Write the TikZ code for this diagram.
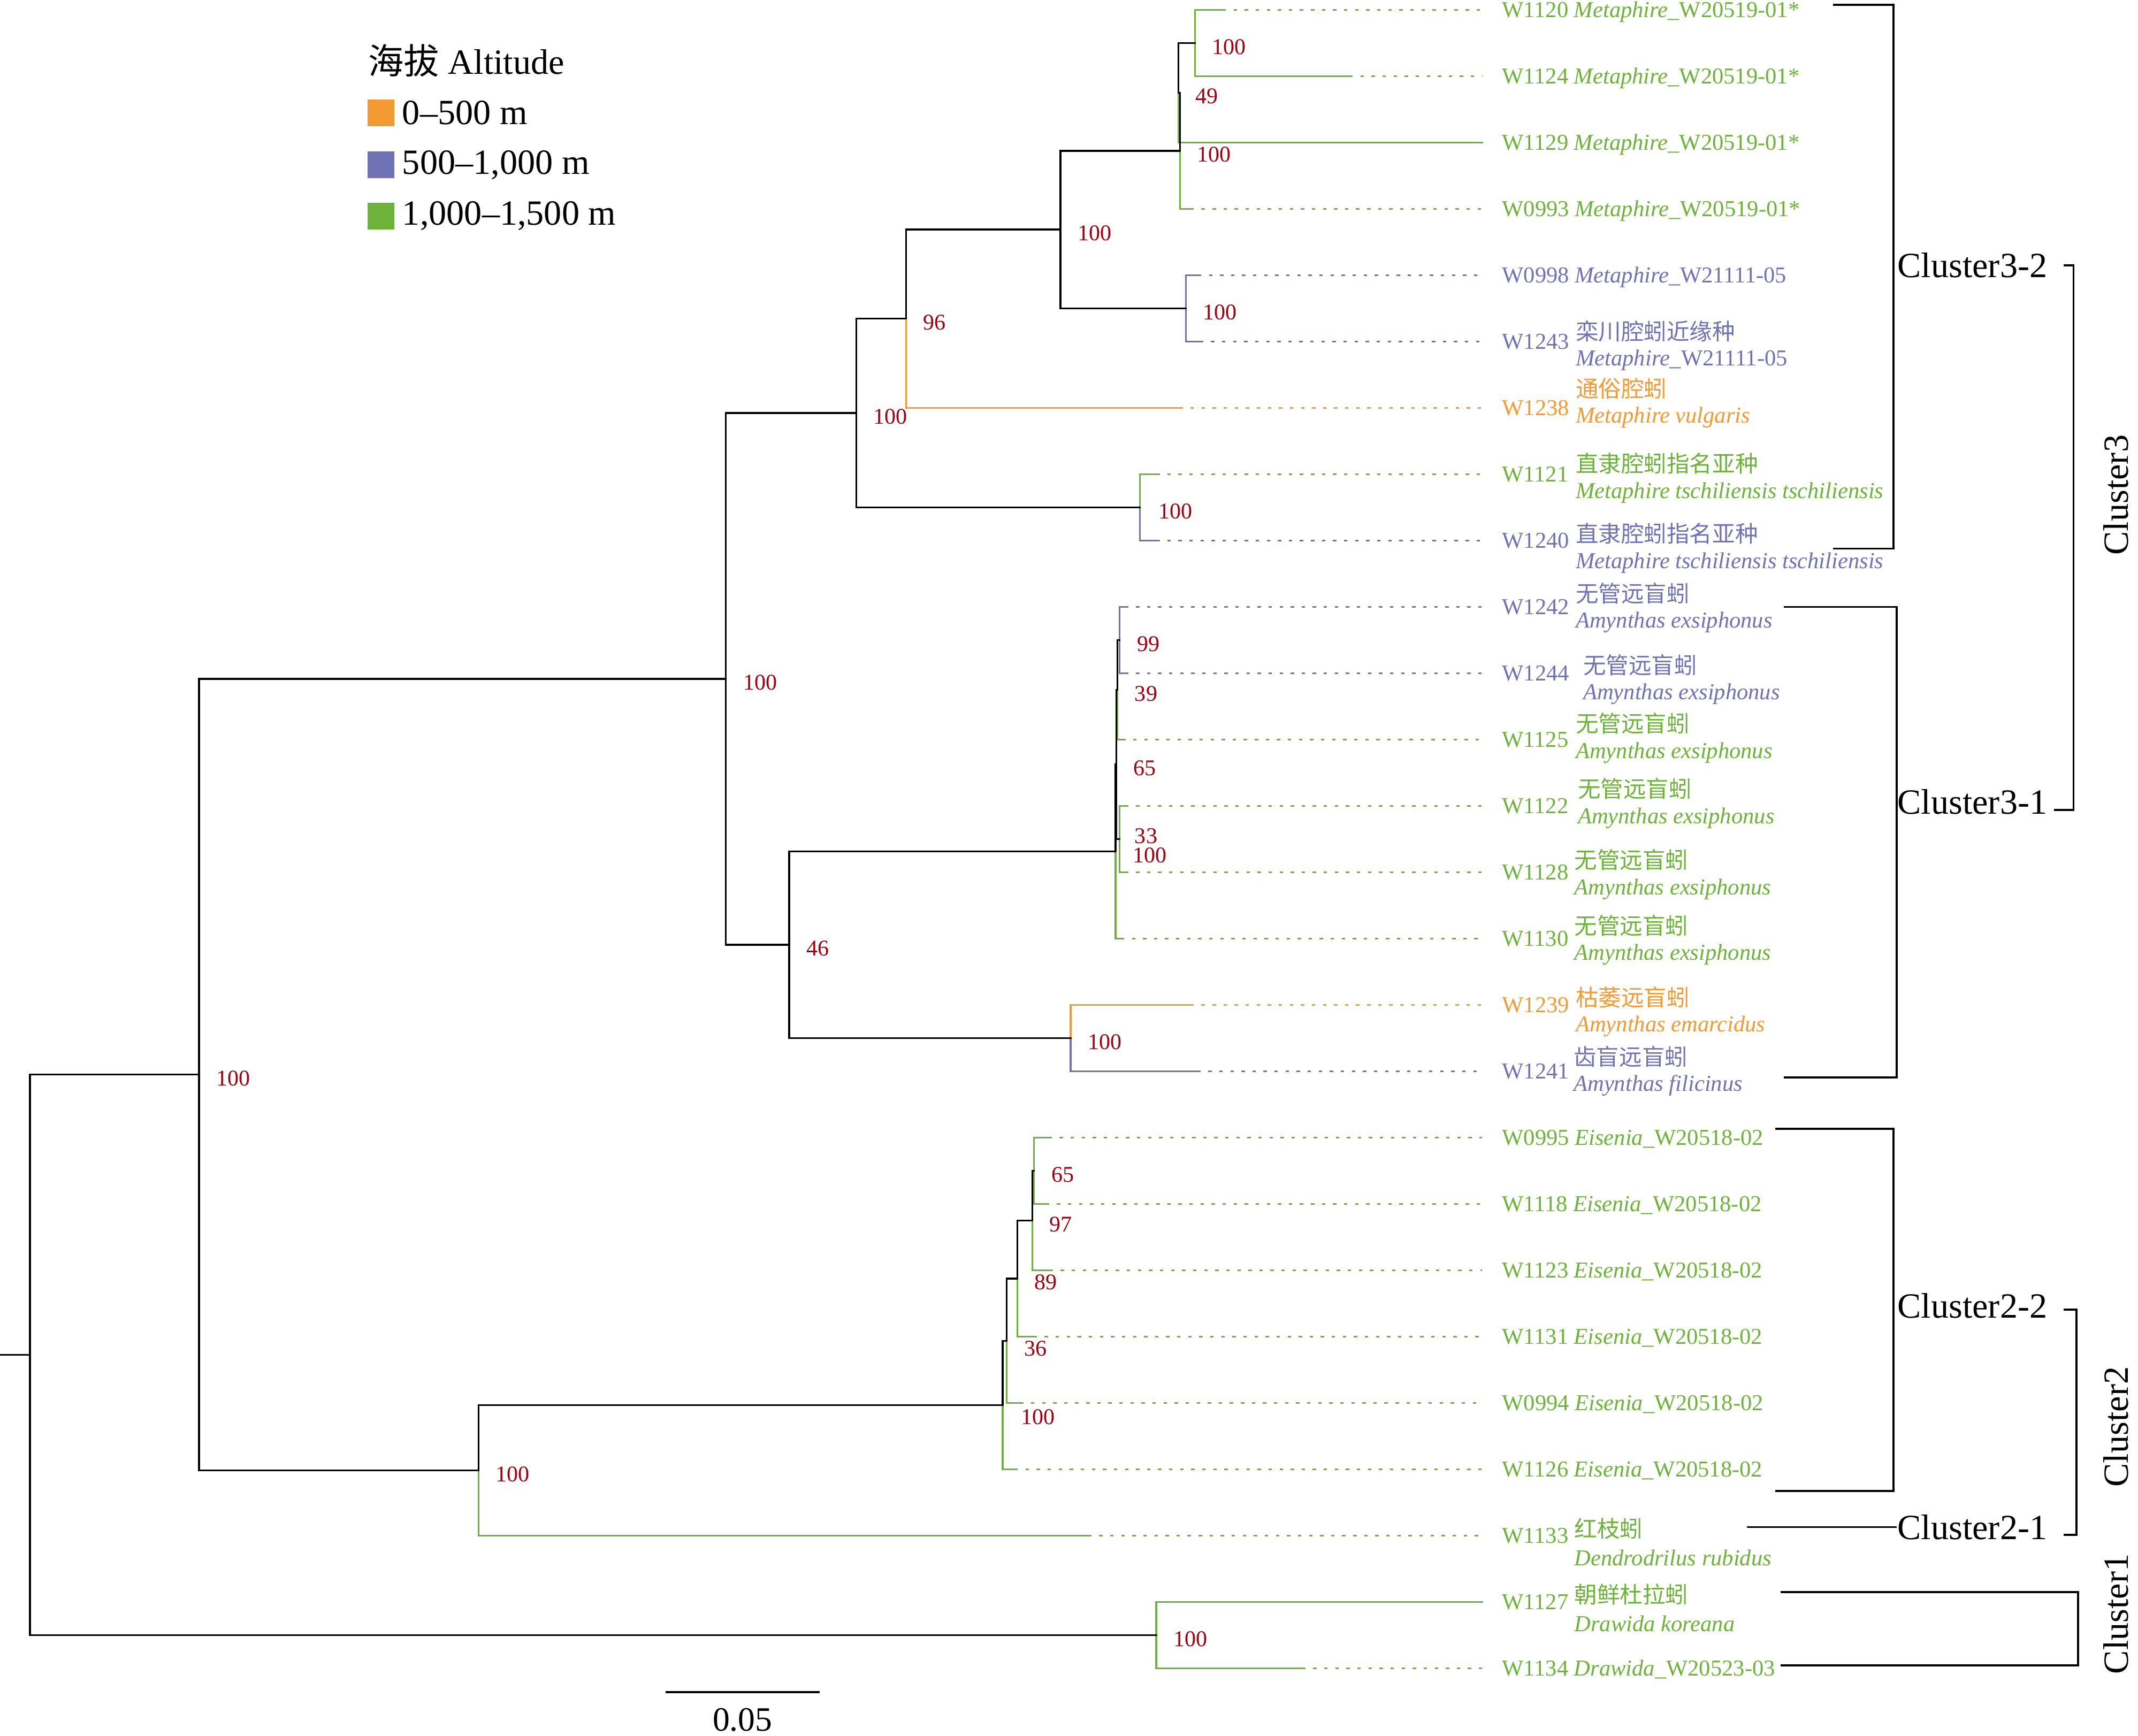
\documentclass[tikz,border=0pt]{standalone}
\usepackage{fontspec}
\setmainfont{Liberation Serif}
\newfontfamily\cjk{Noto Sans CJK SC}
\usetikzlibrary{calc}

\definecolor{alt1}{RGB}{243,155,50}
\definecolor{alt2}{RGB}{112,114,182}
\definecolor{alt3}{RGB}{109,179,58}
\definecolor{bsred}{RGB}{160,0,16}

\tikzset{every picture/.style={line width=1.3pt}}
\tikzset{
  br/.style={line cap=rect},
  dots/.style={line cap=butt,dash pattern=on 2.5pt off 5.6pt},
  bs/.style={anchor=west,inner sep=0pt,text=bsred,font=\fontsize{16.5}{18}\selectfont,xshift=12pt,yshift=-2.7pt},
  lbl/.style={inner sep=0pt,font=\fontsize{16.7}{20}\selectfont},
  big/.style={inner sep=0pt,font=\fontsize{26}{30}\selectfont},
  sq/.style={minimum size=19.6pt,inner sep=0pt},
  bracket/.style={line width=1.5pt}
}

\begin{document}
\begin{tikzpicture}[x=1pt,y=1pt,yscale=-1]
\path[fill=white,use as bounding box] (0,0) rectangle (1568,1273);

% inner nodes of the tree
\coordinate (nF) at (876.4,31.53);
\coordinate (nX) at (864.3,68.03);
\coordinate (nH) at (865.3,110.6);
\coordinate (nL) at (869.8,226.17);
\coordinate (nE) at (777.7,168.39);
\coordinate (nD) at (664.5,233.78);
\coordinate (nM) at (836,372.15);
\coordinate (nC) at (628,302.96);
\coordinate (nQ) at (821.2,469.47);
\coordinate (nR) at (819.6,505.97);
\coordinate (nS) at (821.2,615.45);
\coordinate (nT) at (818.8,560.71);
\coordinate (nO) at (818.1,624.58);
\coordinate (nP) at (785.2,761.43);
\coordinate (nN) at (578.8,693.0);
\coordinate (nB) at (532.4,497.98);
\coordinate (nU5) at (758.4,858.75);
\coordinate (nU4) at (757.0,895.25);
\coordinate (nU3) at (746.2,937.83);
\coordinate (nU2) at (738.4,983.45);
\coordinate (nU1) at (735.3,1030.58);
\coordinate (nV) at (351,1078.48);
\coordinate (nA) at (146,788.23);
\coordinate (nW) at (848,1199.37);
\coordinate (nRoot) at (22,993.8);
\coordinate (nStub) at (0,993.8);

% tips: solid part, then dotted part
\foreach \t/\p/\sx/\cl in {1/nF/896.6/alt3, 2/nF/989.6/alt3, 3/nX/1087/alt3, 4/nH/873/alt3,
  5/nL/878.5/alt2, 6/nL/880/alt2, 7/nD/865/alt1, 8/nM/848/alt3, 9/nM/848/alt2,
  10/nQ/825/alt2, 11/nQ/825/alt2, 12/nR/823/alt3, 13/nS/825/alt3, 14/nS/825/alt3,
  15/nO/822/alt3, 16/nP/873/alt1, 17/nP/878/alt2, 18/nU5/769/alt3, 19/nU5/767/alt3,
  20/nU4/769.7/alt3, 21/nU3/758/alt3, 22/nU2/748/alt3, 23/nU1/744/alt3,
  24/nV/798/alt3, 25/nW/1087/alt3, 26/nW/955/alt3}{
  \coordinate (t\t) at (1087,{7.2+48.66*(\t-1)});
  \coordinate (s\t) at (\sx,{7.2+48.66*(\t-1)});
  \draw[\cl,br] (\p |- t\t) -- (s\t);
  \draw[\cl,dots] (s\t) -- (t\t);
}

% verticals (upper half / lower half)
\draw[alt3,br] (nF |- t1) -- (nF |- t2);
\draw[br] (nX |- nF) -- (nX); \draw[alt3,br] (nX) -- (nX |- t3);
\draw[br] (nH |- nX) -- (nH); \draw[alt3,br] (nH) -- (nH |- t4);
\draw[alt2,br] (nL |- t5) -- (nL |- t6);
\draw[br] (nE |- nH) -- (nE |- nL);
\draw[br] (nD |- nE) -- (nD); \draw[alt1,br] (nD) -- (nD |- t7);
\draw[br] (nC |- nD) -- (nC |- nM);
\draw[alt3,br] (nM |- t8) -- (nM); \draw[alt2,br] (nM) -- (nM |- t9);
\draw[br] (nB |- nC) -- (nB |- nN);
\draw[alt2,br] (nQ |- t10) -- (nQ |- t11);
\draw[br] (nR |- nQ) -- (nR); \draw[alt3,br] (nR) -- (nR |- t12);
\draw[alt3,br] (nS |- t13) -- (nS |- t14);
\draw[br] (nT |- nR) -- (nT |- nS);
\draw[br] (nO |- nT) -- (nO); \draw[alt3,br] (nO) -- (nO |- t15);
\draw[br] (nN |- nO) -- (nN |- nP);
\draw[alt1,br] (nP |- t16) -- (nP); \draw[alt2,br] (nP) -- (nP |- t17);
\draw[alt3,br] (nU5 |- t18) -- (nU5 |- t19);
\draw[br] (nU4 |- nU5) -- (nU4); \draw[alt3,br] (nU4) -- (nU4 |- t20);
\draw[br] (nU3 |- nU4) -- (nU3); \draw[alt3,br] (nU3) -- (nU3 |- t21);
\draw[br] (nU2 |- nU3) -- (nU2); \draw[alt3,br] (nU2) -- (nU2 |- t22);
\draw[br] (nU1 |- nU2) -- (nU1); \draw[alt3,br] (nU1) -- (nU1 |- t23);
\draw[br] (nV |- nU1) -- (nV); \draw[alt3,br] (nV) -- (nV |- t24);
\draw[br] (nA |- nB) -- (nA |- nV);
\draw[alt3,br] (nW |- t25) -- (nW |- t26);
\draw[br] (nRoot |- nA) -- (nRoot |- nW);

% horizontal branches between inner nodes
\foreach \p/\c in {nX/nF, nH/nX, nE/nH, nE/nL, nD/nE, nC/nD, nC/nM, nB/nC, nB/nN,
  nR/nQ, nT/nR, nT/nS, nO/nT, nN/nO, nN/nP, nU4/nU5, nU3/nU4, nU2/nU3, nU1/nU2,
  nV/nU1, nA/nB, nA/nV, nRoot/nA, nRoot/nW}
  \draw[br] (\p |- \c) -- (\c);
\draw[br] (nStub) -- (nRoot);

% bootstrap values
\node[bs] (bF) at (nF) {100};
\node[bs] (bX) at (nX) {49};
\node[bs] (bH) at (nH) {100};
\node[bs] (bE) at (nE) {100};
\node[bs] (bL) at (nL) {100};
\node[bs] (bD) at (nD) {96};
\node[bs] (bC) at (nC) {100};
\node[bs,xshift=1pt] (bM) at (nM) {100};
\node[bs] (bB) at (nB) {100};
\node[bs] (bQ) at (nQ) {99};
\node[bs] (bR) at (nR) {39};
\node[bs] (bT) at (nT) {65};
\node[bs,xshift=-1.6pt,yshift=4.8pt] (bS) at (nS) {33};
\node[bs] (bO) at (nO) {100};
\node[bs] (bN) at (nN) {46};
\node[bs] (bP) at (nP) {100};
\node[bs] (bU5) at (nU5) {65};
\node[bs] (bU4) at (nU4) {97};
\node[bs] (bU3) at (nU3) {89};
\node[bs,yshift=-3pt] (bU2) at (nU2) {36};
\node[bs,xshift=1pt,yshift=-6pt] (bU1) at (nU1) {100};
\node[bs] (bV) at (nV) {100};
\node[bs] (bA) at (nA) {100};
\node[bs] (bW) at (nW) {100};

% tip labels
\node[lbl,alt3,anchor=base west] (l1) at ([xshift=14pt,yshift=5.6pt]t1) {W1120 \textit{Metaphire}\_W20519-01*};
\node[lbl,alt3,anchor=base west] (l2) at ([xshift=14pt,yshift=5.6pt]t2) {W1124 \textit{Metaphire}\_W20519-01*};
\node[lbl,alt3,anchor=base west] (l3) at ([xshift=14pt,yshift=5.6pt]t3) {W1129 \textit{Metaphire}\_W20519-01*};
\node[lbl,alt3,anchor=base west] (l4) at ([xshift=14pt,yshift=5.6pt]t4) {W0993 \textit{Metaphire}\_W20519-01*};
\node[lbl,alt2,anchor=base west] (l5) at ([xshift=14pt,yshift=5.6pt]t5) {W0998 \textit{Metaphire}\_W21111-05};

\node[lbl,alt2,anchor=base west] (l6) at ([xshift=14pt,yshift=5.6pt]t6) {W1243};
\node[lbl,alt2,anchor=west] (c6) at ([xshift=68pt,yshift=-7.7pt]t6) {\cjk 栾川腔蚓近缘种};
\node[lbl,alt2,anchor=west] (m6) at ([xshift=68pt,yshift=13.7pt]t6) {\textit{Metaphire}\_W21111-05};

\node[lbl,alt1,anchor=base west] (l7) at ([xshift=14pt,yshift=5.6pt]t7) {W1238};
\node[lbl,alt1,anchor=west] (c7) at ([xshift=68pt,yshift=-14.2pt]t7) {\cjk 通俗腔蚓};
\node[lbl,alt1,anchor=west] (m7) at ([xshift=68pt,yshift=7.2pt]t7) {\textit{Metaphire vulgaris}};

\node[lbl,alt3,anchor=base west] (l8) at ([xshift=14pt,yshift=5.6pt]t8) {W1121};
\node[lbl,alt3,anchor=west] (c8) at ([xshift=68pt,yshift=-7.9pt]t8) {\cjk 直隶腔蚓指名亚种};
\node[lbl,alt3,anchor=west] (m8) at ([xshift=68pt,yshift=13.5pt]t8) {\textit{Metaphire tschiliensis tschiliensis}};

\node[lbl,alt2,anchor=base west] (l9) at ([xshift=14pt,yshift=5.6pt]t9) {W1240};
\node[lbl,alt2,anchor=west] (c9) at ([xshift=68pt,yshift=-5pt]t9) {\cjk 直隶腔蚓指名亚种};
\node[lbl,alt2,anchor=west] (m9) at ([xshift=68pt,yshift=16.4pt]t9) {\textit{Metaphire tschiliensis tschiliensis}};

\node[lbl,alt2,anchor=base west] (l10) at ([xshift=14pt,yshift=5.6pt]t10) {W1242};
\node[lbl,alt2,anchor=west] (c10) at ([xshift=68pt,yshift=-10pt]t10) {\cjk 无管远盲蚓};
\node[lbl,alt2,anchor=west] (m10) at ([xshift=68pt,yshift=11.4pt]t10) {\textit{Amynthas exsiphonus}};

\node[lbl,alt2,anchor=base west] (l11) at ([xshift=14pt,yshift=5.6pt]t11) {W1244};
\node[lbl,alt2,anchor=west] (c11) at ([xshift=73.5pt,yshift=-6pt]t11) {\cjk 无管远盲蚓};
\node[lbl,alt2,anchor=west] (m11) at ([xshift=73.5pt,yshift=15.4pt]t11) {\textit{Amynthas exsiphonus}};

\node[lbl,alt3,anchor=base west] (l12) at ([xshift=14pt,yshift=5.6pt]t12) {W1125};
\node[lbl,alt3,anchor=west] (c12) at ([xshift=68pt,yshift=-11.8pt]t12) {\cjk 无管远盲蚓};
\node[lbl,alt3,anchor=west] (m12) at ([xshift=68pt,yshift=9.6pt]t12) {\textit{Amynthas exsiphonus}};

\node[lbl,alt3,anchor=base west] (l13) at ([xshift=14pt,yshift=5.6pt]t13) {W1122};
\node[lbl,alt3,anchor=west] (c13) at ([xshift=69.5pt,yshift=-12.5pt]t13) {\cjk 无管远盲蚓};
\node[lbl,alt3,anchor=west] (m13) at ([xshift=69.5pt,yshift=8.9pt]t13) {\textit{Amynthas exsiphonus}};

\node[lbl,alt3,anchor=base west] (l14) at ([xshift=14pt,yshift=5.6pt]t14) {W1128};
\node[lbl,alt3,anchor=west] (c14) at ([xshift=67pt,yshift=-9pt]t14) {\cjk 无管远盲蚓};
\node[lbl,alt3,anchor=west] (m14) at ([xshift=67pt,yshift=12.4pt]t14) {\textit{Amynthas exsiphonus}};

\node[lbl,alt3,anchor=base west] (l15) at ([xshift=14pt,yshift=5.6pt]t15) {W1130};
\node[lbl,alt3,anchor=west] (c15) at ([xshift=67pt,yshift=-9.7pt]t15) {\cjk 无管远盲蚓};
\node[lbl,alt3,anchor=west] (m15) at ([xshift=67pt,yshift=11.7pt]t15) {\textit{Amynthas exsiphonus}};

\node[lbl,alt1,anchor=base west] (l16) at ([xshift=14pt,yshift=5.6pt]t16) {W1239};
\node[lbl,alt1,anchor=west] (c16) at ([xshift=68pt,yshift=-5.6pt]t16) {\cjk 枯萎远盲蚓};
\node[lbl,alt1,anchor=west] (m16) at ([xshift=68pt,yshift=15.8pt]t16) {\textit{Amynthas emarcidus}};

\node[lbl,alt2,anchor=base west] (l17) at ([xshift=14pt,yshift=5.6pt]t17) {W1241};
\node[lbl,alt2,anchor=west] (c17) at ([xshift=66.5pt,yshift=-10.8pt]t17) {\cjk 齿盲远盲蚓};
\node[lbl,alt2,anchor=west] (m17) at ([xshift=66.5pt,yshift=10.6pt]t17) {\textit{Amynthas filicinus}};

\node[lbl,alt3,anchor=base west] (l18) at ([xshift=14pt,yshift=5.6pt]t18) {W0995 \textit{Eisenia}\_W20518-02};
\node[lbl,alt3,anchor=base west] (l19) at ([xshift=14pt,yshift=5.6pt]t19) {W1118 \textit{Eisenia}\_W20518-02};
\node[lbl,alt3,anchor=base west] (l20) at ([xshift=14pt,yshift=5.6pt]t20) {W1123 \textit{Eisenia}\_W20518-02};
\node[lbl,alt3,anchor=base west] (l21) at ([xshift=14pt,yshift=5.6pt]t21) {W1131 \textit{Eisenia}\_W20518-02};
\node[lbl,alt3,anchor=base west] (l22) at ([xshift=14pt,yshift=5.6pt]t22) {W0994 \textit{Eisenia}\_W20518-02};
\node[lbl,alt3,anchor=base west] (l23) at ([xshift=14pt,yshift=5.6pt]t23) {W1126 \textit{Eisenia}\_W20518-02};

\node[lbl,alt3,anchor=base west] (l24) at ([xshift=14pt,yshift=5.6pt]t24) {W1133};
\node[lbl,alt3,anchor=west] (c24) at ([xshift=67pt,yshift=-5.3pt]t24) {\cjk 红枝蚓};
\node[lbl,alt3,anchor=west] (m24) at ([xshift=67pt,yshift=16.1pt]t24) {\textit{Dendrodrilus rubidus}};

\node[lbl,alt3,anchor=base west] (l25) at ([xshift=14pt,yshift=5.6pt]t25) {W1127};
\node[lbl,alt3,anchor=west] (c25) at ([xshift=67pt,yshift=-5.6pt]t25) {\cjk 朝鲜杜拉蚓};
\node[lbl,alt3,anchor=west] (m25) at ([xshift=67pt,yshift=15.8pt]t25) {\textit{Drawida koreana}};

\node[lbl,alt3,anchor=base west] (l26) at ([xshift=14pt,yshift=5.6pt]t26) {W1134 \textit{Drawida}\_W20523-03};

% clusters
\node[big,anchor=west] (c32) at (1391,194.5) {Cluster3-2};
\node[big,anchor=west] (c31) at (1391,588) {Cluster3-1};
\node[big,anchor=west] (c22) at (1391,957.6) {Cluster2-2};
\node[big,anchor=west] (c21) at (1391,1120.1) {Cluster2-1};
\node[big,rotate=90] (cl3) at (1552,363) {Cluster3};
\node[big,rotate=90] (cl2) at (1552,1046.5) {Cluster2};
\node[big,rotate=90] (cl1) at (1552,1183.8) {Cluster1};

\draw[bracket] (1344.2,3.6) -| (1388.8,402.4) -- (1344.2,402.4);
\draw[bracket] (1308.3,445.2) -| (1391,790.3) -- (1308.3,790.3);
\draw[bracket] (1513.5,194.6) -| (1520.7,594) -- (1506.5,594);
\draw[bracket] (1302.1,827.8) -| (1388.8,1093.6) -- (1302.1,1093.6);
\draw[bracket] (1281.3,1120.1) -- (c21.west);
\draw[bracket] (1513.5,960.6) -| (1523,1125.7) -- (1513.5,1125.7);
\draw[bracket] (1306,1167.9) -| (1523.9,1221.4) -- (1306,1221.4);

% legend
\node[big,anchor=west] (legT) at (269.6,44.5) {{\cjk 海拔} Altitude};
\node[sq,fill=alt1] (k1) at (279.4,82.8) {};
\node[sq,fill=alt2] (k2) at (279.4,120.9) {};
\node[sq,fill=alt3] (k3) at (279.4,158.5) {};
\node[big,anchor=west] (k1t) at ([xshift=15pt]k1.center) {0–500 m};
\node[big,anchor=west] (k2t) at ([xshift=15pt]k2.center) {500–1,000 m};
\node[big,anchor=west] (k3t) at ([xshift=15pt]k3.center) {1,000–1,500 m};

% scale bar
\coordinate (sb1) at (488.1,1241);
\coordinate (sb2) at (601,1241);
\draw[line width=1.5pt] (sb1) -- (sb2);
\node[inner sep=0pt,font=\fontsize{25}{28}\selectfont] (sbl) at ([yshift=20.5pt]$(sb1)!0.5!(sb2)$) {0.05};

\end{tikzpicture}
\end{document}
